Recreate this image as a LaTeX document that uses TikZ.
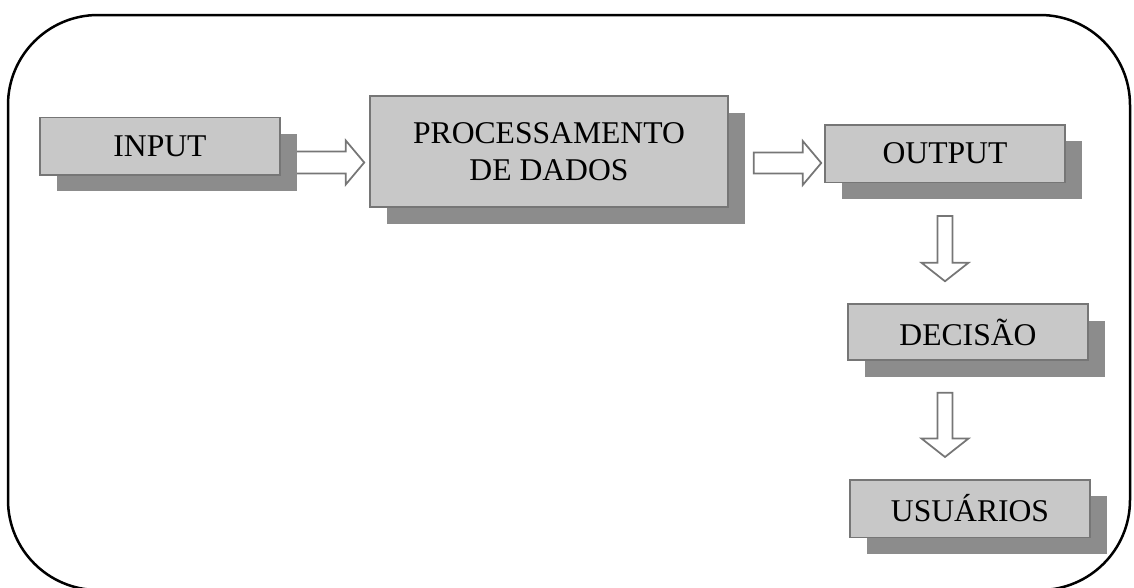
\documentclass[tikz,border=0pt]{standalone}
\usepackage{fontspec}
\setmainfont{Liberation Serif}
\usetikzlibrary{calc,shadows,backgrounds}
\definecolor{boxgray}{RGB}{200,200,200}
\definecolor{shadegray}{RGB}{140,140,140}
\definecolor{edgegray}{RGB}{118,118,118}
\tikzset{
  databox/.style={rectangle, fill=boxgray, draw=edgegray, line width=0.03cm, minimum width=4.8cm, minimum height=1.15cm, inner sep=0pt, align=center, font=\fontsize{18}{21}\selectfont, drop shadow={shadow xshift=0.34cm, shadow yshift=-0.33cm, fill=shadegray, opacity=1}},
  blockarrow/.style 2 args={draw=edgegray, fill=white, line width=0.035cm, line join=miter,
    to path={let \p1=(\tikztostart), \p2=(\tikztotarget), \n1={atan2(\y2-\y1,\x2-\x1)}, \n2={veclen(\x2-\x1,\y2-\y1)-0.37cm} in
      ($(\p1)+(\n1+90:#1)$) -- ($(\p1)+(\n1:\n2)+(\n1+90:#1)$) -- ($(\p1)+(\n1:\n2)+(\n1+90:#2)$) -- (\p2)
      -- ($(\p1)+(\n1:\n2)+(\n1-90:#2)$) -- ($(\p1)+(\n1:\n2)+(\n1-90:#1)$) -- ($(\p1)+(\n1-90:#1)$) -- cycle}}
}
\begin{document}
\begin{tikzpicture}
\useasboundingbox (0,0) rectangle (22.68,-11.74);
\draw[line width=0.05cm, rounded corners=1.8cm] (0.16,-0.3) rectangle (22.6,-11.8);
\node[databox] (in) at (3.2,-2.92) {INPUT};
\node[databox, minimum width=7.16cm, minimum height=2.22cm] (proc) at (10.98,-3.03) {PROCESSAMENTO\\DE DADOS};
\node[databox] (out) at (18.9,-3.07) {OUTPUT};
\node[databox, minimum height=1.12cm] (dec) at (19.36,-6.64) {DECISÃO};
\node[databox] (usu) at (19.4,-10.17) {USUÁRIOS};
\begin{scope}[on background layer]
\draw[blockarrow={0.22cm}{0.44cm}] ($(in.east)+(0,-0.33)$) to ($(proc.west)+(-0.1,-0.22)$);
\end{scope}
\draw[blockarrow={0.21cm}{0.44cm}] ($(proc.east)+(0.5,-0.23)$) to ($(proc.east -| out.west)+(-0.06,-0.23)$);
\draw[blockarrow={0.15cm}{0.47cm}] ($(out.south)+(0,-0.66)$) to ($(out.south |- dec.north)+(0,0.44)$);
\draw[blockarrow={0.15cm}{0.47cm}] ($(out.south |- dec.south)+(0,-0.64)$) to ($(out.south |- usu.north)+(0,0.44)$);
\end{tikzpicture}
\end{document}
